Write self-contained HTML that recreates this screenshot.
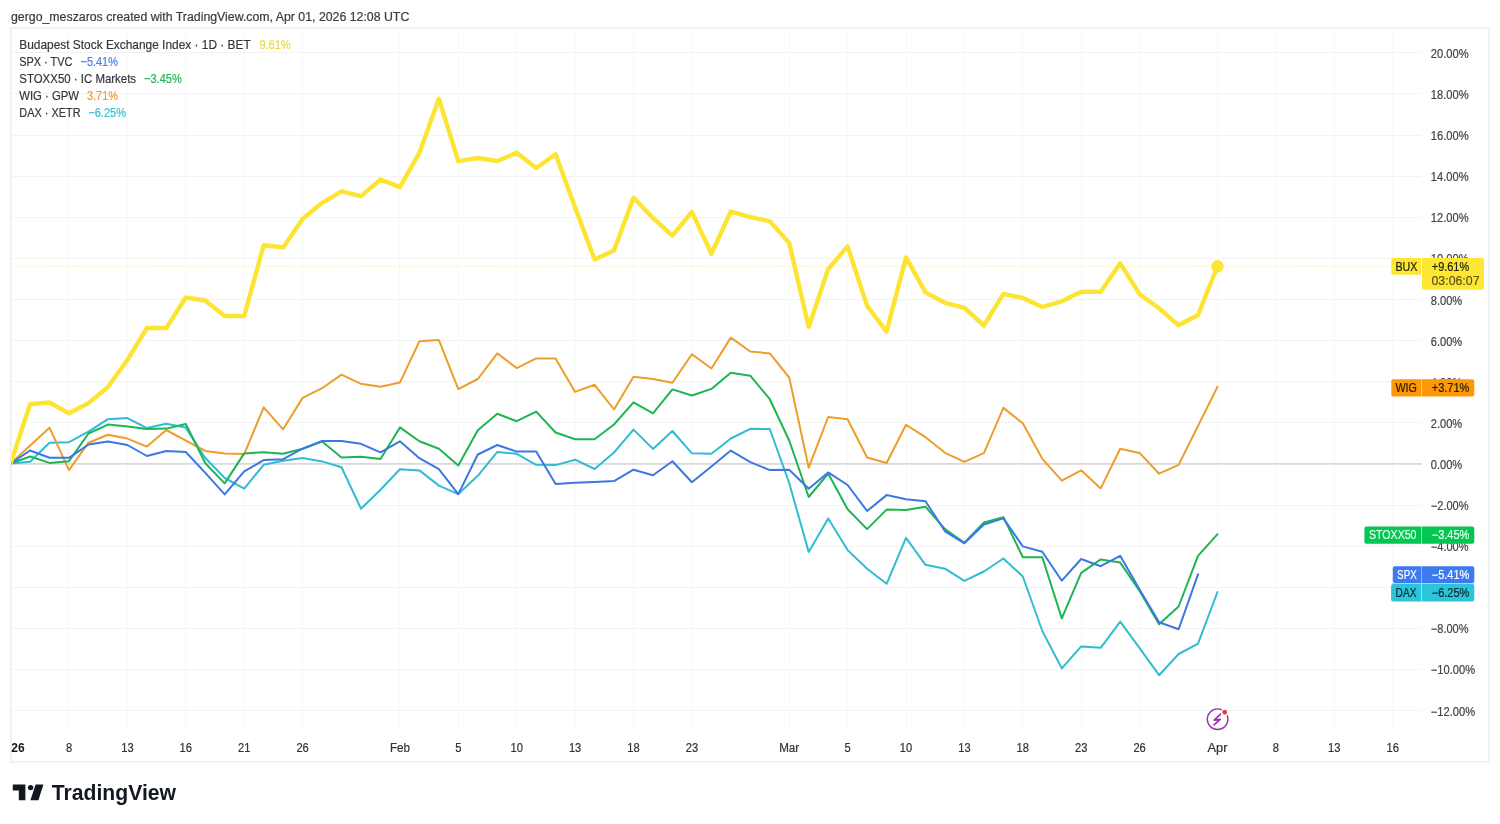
<!DOCTYPE html>
<html><head><meta charset="utf-8"><title>TradingView chart</title>
<style>
html,body{margin:0;padding:0;background:#fff;}
body{width:1500px;height:824px;overflow:hidden;}
svg{display:block;will-change:transform;}
text{font-family:"Liberation Sans", Arial, sans-serif;}
text.s{stroke:currentColor;stroke-width:0.22px;}
</style></head><body>
<svg width="1500" height="824" viewBox="0 0 1500 824">
<rect x="0" y="0" width="1500" height="824" fill="#ffffff"/>

<text class="s" x="11" y="20.6" font-size="12.3" fill="#3a3d45" color="#3a3d45" textLength="398.3" lengthAdjust="spacingAndGlyphs">gergo_meszaros created with TradingView.com, Apr 01, 2026 12:08 UTC</text>
<rect x="10.85" y="27.8" width="1478.3" height="734.1" fill="#fff" stroke="#efefef" stroke-width="1.6"/>
<line x1="11.5" y1="52.5" x2="1421" y2="52.5" stroke="#f3f3f3" stroke-width="1"/>
<line x1="11.5" y1="93.5" x2="1421" y2="93.5" stroke="#f3f3f3" stroke-width="1"/>
<line x1="11.5" y1="135.5" x2="1421" y2="135.5" stroke="#f3f3f3" stroke-width="1"/>
<line x1="11.5" y1="176.5" x2="1421" y2="176.5" stroke="#f3f3f3" stroke-width="1"/>
<line x1="11.5" y1="217.5" x2="1421" y2="217.5" stroke="#f3f3f3" stroke-width="1"/>
<line x1="11.5" y1="258.5" x2="1421" y2="258.5" stroke="#f3f3f3" stroke-width="1"/>
<line x1="11.5" y1="299.5" x2="1421" y2="299.5" stroke="#f3f3f3" stroke-width="1"/>
<line x1="11.5" y1="340.5" x2="1421" y2="340.5" stroke="#f3f3f3" stroke-width="1"/>
<line x1="11.5" y1="381.5" x2="1421" y2="381.5" stroke="#f3f3f3" stroke-width="1"/>
<line x1="11.5" y1="422.5" x2="1421" y2="422.5" stroke="#f3f3f3" stroke-width="1"/>
<line x1="11.5" y1="505.5" x2="1421" y2="505.5" stroke="#f3f3f3" stroke-width="1"/>
<line x1="11.5" y1="546.5" x2="1421" y2="546.5" stroke="#f3f3f3" stroke-width="1"/>
<line x1="11.5" y1="587.5" x2="1421" y2="587.5" stroke="#f3f3f3" stroke-width="1"/>
<line x1="11.5" y1="628.5" x2="1421" y2="628.5" stroke="#f3f3f3" stroke-width="1"/>
<line x1="11.5" y1="669.5" x2="1421" y2="669.5" stroke="#f3f3f3" stroke-width="1"/>
<line x1="11.5" y1="710.5" x2="1421" y2="710.5" stroke="#f3f3f3" stroke-width="1"/>
<line x1="68.5" y1="28.5" x2="68.5" y2="731" stroke="#f8f8f8" stroke-width="1"/>
<line x1="127.5" y1="28.5" x2="127.5" y2="731" stroke="#f8f8f8" stroke-width="1"/>
<line x1="185.5" y1="28.5" x2="185.5" y2="731" stroke="#f8f8f8" stroke-width="1"/>
<line x1="244.5" y1="28.5" x2="244.5" y2="731" stroke="#f8f8f8" stroke-width="1"/>
<line x1="302.5" y1="28.5" x2="302.5" y2="731" stroke="#f8f8f8" stroke-width="1"/>
<line x1="399.5" y1="28.5" x2="399.5" y2="731" stroke="#f8f8f8" stroke-width="1"/>
<line x1="458.5" y1="28.5" x2="458.5" y2="731" stroke="#f8f8f8" stroke-width="1"/>
<line x1="516.5" y1="28.5" x2="516.5" y2="731" stroke="#f8f8f8" stroke-width="1"/>
<line x1="575.5" y1="28.5" x2="575.5" y2="731" stroke="#f8f8f8" stroke-width="1"/>
<line x1="633.5" y1="28.5" x2="633.5" y2="731" stroke="#f8f8f8" stroke-width="1"/>
<line x1="691.5" y1="28.5" x2="691.5" y2="731" stroke="#f8f8f8" stroke-width="1"/>
<line x1="789.5" y1="28.5" x2="789.5" y2="731" stroke="#f8f8f8" stroke-width="1"/>
<line x1="847.5" y1="28.5" x2="847.5" y2="731" stroke="#f8f8f8" stroke-width="1"/>
<line x1="906.5" y1="28.5" x2="906.5" y2="731" stroke="#f8f8f8" stroke-width="1"/>
<line x1="964.5" y1="28.5" x2="964.5" y2="731" stroke="#f8f8f8" stroke-width="1"/>
<line x1="1022.5" y1="28.5" x2="1022.5" y2="731" stroke="#f8f8f8" stroke-width="1"/>
<line x1="1081.5" y1="28.5" x2="1081.5" y2="731" stroke="#f8f8f8" stroke-width="1"/>
<line x1="1139.5" y1="28.5" x2="1139.5" y2="731" stroke="#f8f8f8" stroke-width="1"/>
<line x1="1217.5" y1="28.5" x2="1217.5" y2="731" stroke="#f8f8f8" stroke-width="1"/>
<line x1="1275.5" y1="28.5" x2="1275.5" y2="731" stroke="#f8f8f8" stroke-width="1"/>
<line x1="1334.5" y1="28.5" x2="1334.5" y2="731" stroke="#f8f8f8" stroke-width="1"/>
<line x1="1392.5" y1="28.5" x2="1392.5" y2="731" stroke="#f8f8f8" stroke-width="1"/>
<line x1="11.5" y1="463.9" x2="1422" y2="463.9" stroke="#d9d9d9" stroke-width="1.8"/>
<line x1="11.5" y1="266.3" x2="1391" y2="266.3" stroke="#f8e68a" stroke-width="1" stroke-dasharray="1 1.6" opacity="0.8"/>
<g clip-path="url(#pane)">
<polyline points="10.6,463.5 30.1,461.7 49.5,442.7 69.0,442.2 88.5,431.6 107.9,419.2 127.4,418.1 146.9,428.1 166.3,423.8 185.8,427.6 205.3,458.0 224.7,478.0 244.2,488.6 263.7,464.8 283.1,460.8 302.6,457.9 322.1,461.4 341.5,467.3 361.0,508.8 380.5,489.7 399.9,469.2 419.4,470.4 438.9,485.6 458.3,494.1 477.8,475.8 497.3,451.9 516.7,453.8 536.2,464.8 555.6,465.1 575.1,459.7 594.6,469.0 614.0,452.5 633.5,429.6 653.0,448.9 672.4,431.0 691.9,453.3 711.4,453.7 730.8,438.5 750.3,428.8 769.8,429.0 789.2,483.0 808.7,551.9 828.2,518.4 847.6,550.1 867.1,568.7 886.6,583.8 906.0,537.9 925.5,564.8 945.0,568.7 964.4,580.8 983.9,571.5 1003.4,558.5 1022.8,576.5 1042.3,631.0 1061.8,668.4 1081.2,646.4 1100.7,647.8 1120.2,621.6 1139.6,648.2 1159.1,675.2 1178.6,654.0 1198.0,643.7 1217.5,592.0" fill="none" stroke="#30BCD3" stroke-width="2" stroke-linejoin="round" stroke-linecap="round"/>
<polyline points="10.6,463.5 49.5,427.7 69.0,470.1 88.5,442.7 107.9,434.8 127.4,438.6 146.9,446.6 166.3,430.0 185.8,440.6 205.3,450.9 224.7,453.4 244.2,454.1 263.7,407.3 283.1,429.3 302.6,397.9 322.1,388.2 341.5,374.6 361.0,383.8 380.5,386.7 399.9,382.6 419.4,341.3 438.9,340.1 458.3,389.2 477.8,379.0 497.3,353.4 516.7,368.1 536.2,358.4 555.6,358.4 575.1,391.9 594.6,384.8 614.0,409.5 633.5,376.8 653.0,379.1 672.4,382.8 691.9,354.2 711.4,368.5 730.8,337.6 750.3,351.5 769.8,353.4 789.2,377.5 808.7,467.7 828.2,417.0 847.6,419.3 867.1,457.5 886.6,463.0 906.0,424.8 925.5,437.2 945.0,452.8 964.4,461.9 983.9,453.1 1003.4,407.9 1022.8,423.3 1042.3,458.8 1061.8,480.7 1081.2,470.3 1100.7,488.4 1120.2,448.7 1139.6,452.9 1159.1,473.7 1178.6,464.9 1217.5,386.8" fill="none" stroke="#EF9D2A" stroke-width="2" stroke-linejoin="round" stroke-linecap="round"/>
<polyline points="10.6,463.5 30.1,456.5 49.5,462.9 69.0,461.2 88.5,433.5 107.9,424.6 127.4,426.4 146.9,429.0 166.3,428.6 185.8,424.0 205.3,463.3 224.7,483.4 244.2,453.4 263.7,452.3 283.1,453.8 302.6,448.7 322.1,441.6 341.5,457.5 361.0,456.7 380.5,458.9 399.9,427.4 419.4,441.3 438.9,448.7 458.3,465.5 477.8,430.3 497.3,413.8 516.7,421.2 536.2,411.6 555.6,432.5 575.1,439.3 594.6,439.3 614.0,424.5 633.5,402.4 653.0,413.4 672.4,389.4 691.9,395.5 711.4,388.9 730.8,372.8 750.3,375.7 769.8,399.2 789.2,440.5 808.7,497.0 828.2,473.6 847.6,509.3 867.1,529.1 886.6,509.6 906.0,510.1 925.5,506.7 945.0,529.1 964.4,542.7 983.9,522.5 1003.4,517.1 1022.8,557.2 1042.3,557.2 1061.8,618.4 1081.2,572.9 1100.7,559.4 1120.2,562.6 1139.6,590.9 1159.1,624.3 1178.6,606.5 1198.0,555.8 1217.5,534.2" fill="none" stroke="#1DB552" stroke-width="2" stroke-linejoin="round" stroke-linecap="round"/>
<polyline points="10.6,463.5 30.1,450.5 49.5,457.8 69.0,457.8 88.5,444.5 107.9,441.4 127.4,445.0 146.9,456.0 166.3,451.0 185.8,452.0 205.3,472.9 224.7,494.4 244.2,471.4 263.7,460.1 283.1,459.2 302.6,448.7 322.1,441.0 341.5,441.0 361.0,443.8 380.5,452.3 399.9,441.3 419.4,458.2 438.9,469.2 458.3,494.1 477.8,454.5 497.3,445.0 516.7,451.6 536.2,451.6 555.6,483.9 575.1,482.7 594.6,482.0 614.0,481.1 633.5,469.7 653.0,475.3 672.4,461.3 691.9,482.3 711.4,466.5 730.8,450.6 750.3,462.1 769.8,470.1 789.2,469.8 808.7,488.7 828.2,472.4 847.6,485.0 867.1,511.0 886.6,495.1 906.0,499.2 925.5,501.2 945.0,531.3 964.4,543.3 983.9,524.5 1003.4,518.4 1022.8,546.4 1042.3,551.8 1061.8,580.7 1081.2,559.0 1100.7,566.2 1120.2,555.8 1139.6,589.6 1159.1,622.3 1178.6,629.3 1198.0,574.3" fill="none" stroke="#3B78E4" stroke-width="2" stroke-linejoin="round" stroke-linecap="round"/>
<polyline points="10.6,463.5 30.1,404.3 49.5,402.5 69.0,413.3 88.5,403.1 107.9,387.0 127.4,360.0 146.9,328.0 166.3,328.0 185.8,297.5 205.3,300.5 224.7,316.0 244.2,316.0 263.7,245.3 283.1,247.4 302.6,218.9 322.1,202.8 341.5,191.3 361.0,196.2 380.5,179.5 399.9,187.1 419.4,152.8 438.9,98.8 458.3,161.2 477.8,158.0 497.3,161.0 516.7,152.8 536.2,168.0 555.6,154.3 575.1,207.4 594.6,259.6 614.0,250.5 633.5,197.7 653.0,218.0 672.4,235.6 691.9,211.9 711.4,253.8 730.8,211.5 750.3,217.1 769.8,221.3 789.2,242.9 808.7,326.9 828.2,269.1 847.6,246.4 867.1,305.9 886.6,331.6 906.0,257.4 925.5,292.4 945.0,302.8 964.4,307.9 983.9,325.5 1003.4,293.9 1022.8,298.0 1042.3,307.0 1061.8,301.3 1081.2,291.7 1100.7,291.7 1120.2,263.3 1139.6,294.2 1159.1,308.3 1178.6,325.3 1198.0,315.0 1217.5,266.3" fill="none" stroke="#FDE432" stroke-width="4.4" stroke-linejoin="round" stroke-linecap="round"/>
<circle cx="1217.5" cy="266.3" r="6.2" fill="#FDE432"/>
</g>
<defs><clipPath id="pane"><rect x="11.5" y="28.5" width="1477" height="703"/></clipPath></defs>
<text x="19.3" y="48.9" font-size="12.6" fill="#34373e" stroke="#34373e" stroke-width="0.2" textLength="231.4" lengthAdjust="spacingAndGlyphs">Budapest Stock Exchange Index · 1D · BET</text>
<text x="259.4" y="48.9" font-size="12.6" fill="#f2d93a" stroke="#f2d93a" stroke-width="0.2" textLength="31.3" lengthAdjust="spacingAndGlyphs">9.61%</text>
<text x="19.3" y="66.0" font-size="12.6" fill="#34373e" stroke="#34373e" stroke-width="0.2" textLength="53.0" lengthAdjust="spacingAndGlyphs">SPX · TVC</text>
<text x="80.6" y="66.0" font-size="12.6" fill="#4a80e3" stroke="#4a80e3" stroke-width="0.2" textLength="37.3" lengthAdjust="spacingAndGlyphs">−5.41%</text>
<text x="19.3" y="83.1" font-size="12.6" fill="#34373e" stroke="#34373e" stroke-width="0.2" textLength="116.8" lengthAdjust="spacingAndGlyphs">STOXX50 · IC Markets</text>
<text x="144.0" y="83.1" font-size="12.6" fill="#20b657" stroke="#20b657" stroke-width="0.2" textLength="37.7" lengthAdjust="spacingAndGlyphs">−3.45%</text>
<text x="19.3" y="100.2" font-size="12.6" fill="#34373e" stroke="#34373e" stroke-width="0.2" textLength="59.7" lengthAdjust="spacingAndGlyphs">WIG · GPW</text>
<text x="87.0" y="100.2" font-size="12.6" fill="#f19a2c" stroke="#f19a2c" stroke-width="0.2" textLength="30.9" lengthAdjust="spacingAndGlyphs">3.71%</text>
<text x="19.3" y="117.4" font-size="12.6" fill="#34373e" stroke="#34373e" stroke-width="0.2" textLength="61.3" lengthAdjust="spacingAndGlyphs">DAX · XETR</text>
<text x="88.3" y="117.4" font-size="12.6" fill="#37c0d6" stroke="#37c0d6" stroke-width="0.2" textLength="37.7" lengthAdjust="spacingAndGlyphs">−6.25%</text>
<text x="1430.8" y="57.9" font-size="12" fill="#40434b" stroke="#40434b" stroke-width="0.2" textLength="37.9" lengthAdjust="spacingAndGlyphs">20.00%</text>
<text x="1430.8" y="99.0" font-size="12" fill="#40434b" stroke="#40434b" stroke-width="0.2" textLength="37.9" lengthAdjust="spacingAndGlyphs">18.00%</text>
<text x="1430.8" y="140.1" font-size="12" fill="#40434b" stroke="#40434b" stroke-width="0.2" textLength="37.9" lengthAdjust="spacingAndGlyphs">16.00%</text>
<text x="1430.8" y="181.2" font-size="12" fill="#40434b" stroke="#40434b" stroke-width="0.2" textLength="37.9" lengthAdjust="spacingAndGlyphs">14.00%</text>
<text x="1430.8" y="222.3" font-size="12" fill="#40434b" stroke="#40434b" stroke-width="0.2" textLength="37.9" lengthAdjust="spacingAndGlyphs">12.00%</text>
<text x="1430.8" y="263.4" font-size="12" fill="#40434b" stroke="#40434b" stroke-width="0.2" textLength="37.9" lengthAdjust="spacingAndGlyphs">10.00%</text>
<text x="1430.8" y="304.5" font-size="12" fill="#40434b" stroke="#40434b" stroke-width="0.2" textLength="31.4" lengthAdjust="spacingAndGlyphs">8.00%</text>
<text x="1430.8" y="345.6" font-size="12" fill="#40434b" stroke="#40434b" stroke-width="0.2" textLength="31.4" lengthAdjust="spacingAndGlyphs">6.00%</text>
<text x="1430.8" y="386.7" font-size="12" fill="#40434b" stroke="#40434b" stroke-width="0.2" textLength="31.4" lengthAdjust="spacingAndGlyphs">4.00%</text>
<text x="1430.8" y="427.8" font-size="12" fill="#40434b" stroke="#40434b" stroke-width="0.2" textLength="31.4" lengthAdjust="spacingAndGlyphs">2.00%</text>
<text x="1430.8" y="468.9" font-size="12" fill="#40434b" stroke="#40434b" stroke-width="0.2" textLength="31.4" lengthAdjust="spacingAndGlyphs">0.00%</text>
<text x="1430.8" y="510.0" font-size="12" fill="#40434b" stroke="#40434b" stroke-width="0.2" textLength="37.8" lengthAdjust="spacingAndGlyphs">−2.00%</text>
<text x="1430.8" y="551.1" font-size="12" fill="#40434b" stroke="#40434b" stroke-width="0.2" textLength="37.8" lengthAdjust="spacingAndGlyphs">−4.00%</text>
<text x="1430.8" y="633.3" font-size="12" fill="#40434b" stroke="#40434b" stroke-width="0.2" textLength="37.8" lengthAdjust="spacingAndGlyphs">−8.00%</text>
<text x="1430.8" y="674.4" font-size="12" fill="#40434b" stroke="#40434b" stroke-width="0.2" textLength="44.3" lengthAdjust="spacingAndGlyphs">−10.00%</text>
<text x="1430.8" y="715.5" font-size="12" fill="#40434b" stroke="#40434b" stroke-width="0.2" textLength="44.3" lengthAdjust="spacingAndGlyphs">−12.00%</text>
<text x="65.9" y="751.8" font-size="12" fill="#2f323b" stroke="#2f323b" stroke-width="0.2" textLength="6.2" lengthAdjust="spacingAndGlyphs">8</text>
<text x="121.2" y="751.8" font-size="12" fill="#2f323b" stroke="#2f323b" stroke-width="0.2" textLength="12.4" lengthAdjust="spacingAndGlyphs">13</text>
<text x="179.6" y="751.8" font-size="12" fill="#2f323b" stroke="#2f323b" stroke-width="0.2" textLength="12.4" lengthAdjust="spacingAndGlyphs">16</text>
<text x="238.0" y="751.8" font-size="12" fill="#2f323b" stroke="#2f323b" stroke-width="0.2" textLength="12.4" lengthAdjust="spacingAndGlyphs">21</text>
<text x="296.4" y="751.8" font-size="12" fill="#2f323b" stroke="#2f323b" stroke-width="0.2" textLength="12.4" lengthAdjust="spacingAndGlyphs">26</text>
<text x="389.9" y="751.8" font-size="12" fill="#2f323b" stroke="#2f323b" stroke-width="0.2" textLength="20.0" lengthAdjust="spacingAndGlyphs">Feb</text>
<text x="455.2" y="751.8" font-size="12" fill="#2f323b" stroke="#2f323b" stroke-width="0.2" textLength="6.2" lengthAdjust="spacingAndGlyphs">5</text>
<text x="510.5" y="751.8" font-size="12" fill="#2f323b" stroke="#2f323b" stroke-width="0.2" textLength="12.4" lengthAdjust="spacingAndGlyphs">10</text>
<text x="568.9" y="751.8" font-size="12" fill="#2f323b" stroke="#2f323b" stroke-width="0.2" textLength="12.4" lengthAdjust="spacingAndGlyphs">13</text>
<text x="627.3" y="751.8" font-size="12" fill="#2f323b" stroke="#2f323b" stroke-width="0.2" textLength="12.4" lengthAdjust="spacingAndGlyphs">18</text>
<text x="685.7" y="751.8" font-size="12" fill="#2f323b" stroke="#2f323b" stroke-width="0.2" textLength="12.4" lengthAdjust="spacingAndGlyphs">23</text>
<text x="779.2" y="751.8" font-size="12" fill="#2f323b" stroke="#2f323b" stroke-width="0.2" textLength="20.0" lengthAdjust="spacingAndGlyphs">Mar</text>
<text x="844.5" y="751.8" font-size="12" fill="#2f323b" stroke="#2f323b" stroke-width="0.2" textLength="6.2" lengthAdjust="spacingAndGlyphs">5</text>
<text x="899.8" y="751.8" font-size="12" fill="#2f323b" stroke="#2f323b" stroke-width="0.2" textLength="12.4" lengthAdjust="spacingAndGlyphs">10</text>
<text x="958.2" y="751.8" font-size="12" fill="#2f323b" stroke="#2f323b" stroke-width="0.2" textLength="12.4" lengthAdjust="spacingAndGlyphs">13</text>
<text x="1016.6" y="751.8" font-size="12" fill="#2f323b" stroke="#2f323b" stroke-width="0.2" textLength="12.4" lengthAdjust="spacingAndGlyphs">18</text>
<text x="1075.0" y="751.8" font-size="12" fill="#2f323b" stroke="#2f323b" stroke-width="0.2" textLength="12.4" lengthAdjust="spacingAndGlyphs">23</text>
<text x="1133.4" y="751.8" font-size="12" fill="#2f323b" stroke="#2f323b" stroke-width="0.2" textLength="12.4" lengthAdjust="spacingAndGlyphs">26</text>
<text x="1207.5" y="751.8" font-size="12" fill="#2f323b" stroke="#2f323b" stroke-width="0.2" textLength="20.0" lengthAdjust="spacingAndGlyphs">Apr</text>
<text x="1272.8" y="751.8" font-size="12" fill="#2f323b" stroke="#2f323b" stroke-width="0.2" textLength="6.2" lengthAdjust="spacingAndGlyphs">8</text>
<text x="1328.1" y="751.8" font-size="12" fill="#2f323b" stroke="#2f323b" stroke-width="0.2" textLength="12.4" lengthAdjust="spacingAndGlyphs">13</text>
<text x="1386.5" y="751.8" font-size="12" fill="#2f323b" stroke="#2f323b" stroke-width="0.2" textLength="12.4" lengthAdjust="spacingAndGlyphs">16</text>
<text x="11.3" y="752" font-size="12" font-weight="bold" fill="#131722">26</text>
<path d="M1393.3 258 H1421 V274.7 H1393.3 Q1391.3 274.7 1391.3 272.7 V260 Q1391.3 258 1393.3 258 Z" fill="#fde733"/>
<path d="M1422 258 H1482 Q1484 258 1484 260 V287.7 Q1484 289.7 1482 289.7 H1424 Q1422 289.7 1422 287.7 Z" fill="#fde733"/>
<text x="1395.4" y="270.8" font-size="12" fill="#1e1e10" stroke="#1e1e10" stroke-width="0.2" textLength="22" lengthAdjust="spacingAndGlyphs">BUX</text>
<text x="1431.8" y="270.8" font-size="12" fill="#1e1e10" stroke="#1e1e10" stroke-width="0.2" textLength="37.3" lengthAdjust="spacingAndGlyphs">+9.61%</text>
<text x="1431.5" y="285.3" font-size="12" fill="#5b5423" stroke="#5b5423" stroke-width="0.2" textLength="48" lengthAdjust="spacingAndGlyphs">03:06:07</text>
<rect x="1391.3" y="379.3" width="83.0" height="17.3" rx="2" fill="#fd9906"/>
<rect x="1421" y="379.3" width="1" height="17.3" fill="rgba(255,255,255,0.45)"/>
<text x="1395.4" y="392.2" font-size="12" fill="#2a1a05" stroke="#2a1a05" stroke-width="0.2" textLength="21.5" lengthAdjust="spacingAndGlyphs">WIG</text>
<text x="1431.8" y="392.2" font-size="12" fill="#2a1a05" stroke="#2a1a05" stroke-width="0.2" textLength="37.5" lengthAdjust="spacingAndGlyphs">+3.71%</text>
<rect x="1364.4" y="526.4" width="109.9" height="17.3" rx="2" fill="#05c652"/>
<rect x="1421" y="526.4" width="1" height="17.3" fill="rgba(150,255,190,0.8)"/>
<text x="1369.0" y="539.3" font-size="12" fill="#e6fff0" stroke="#e6fff0" stroke-width="0.2" textLength="47.5" lengthAdjust="spacingAndGlyphs">STOXX50</text>
<text x="1431.8" y="539.3" font-size="12" fill="#e6fff0" stroke="#e6fff0" stroke-width="0.2" textLength="37.5" lengthAdjust="spacingAndGlyphs">−3.45%</text>
<rect x="1392.8" y="566.2" width="81.5" height="16.8" rx="2" fill="#3d7af0"/>
<rect x="1421" y="566.2" width="1" height="16.8" fill="rgba(255,255,255,0.45)"/>
<text x="1397.1" y="579.1" font-size="12" fill="#ffffff" stroke="#ffffff" stroke-width="0.2" textLength="19.6" lengthAdjust="spacingAndGlyphs">SPX</text>
<text x="1431.8" y="579.1" font-size="12" fill="#ffffff" stroke="#ffffff" stroke-width="0.2" textLength="37.5" lengthAdjust="spacingAndGlyphs">−5.41%</text>
<rect x="1391.1" y="584.0" width="83.2" height="17.4" rx="2" fill="#2bc4da"/>
<rect x="1421" y="584.0" width="1" height="17.4" fill="rgba(255,255,255,0.5)"/>
<text x="1395.6" y="596.9" font-size="12" fill="#0b2a30" stroke="#0b2a30" stroke-width="0.2" textLength="20.8" lengthAdjust="spacingAndGlyphs">DAX</text>
<text x="1431.8" y="596.9" font-size="12" fill="#0b2a30" stroke="#0b2a30" stroke-width="0.2" textLength="37.5" lengthAdjust="spacingAndGlyphs">−6.25%</text>
<rect x="1392" y="583" width="82" height="1" fill="#8fe3f0"/>
<g transform="translate(1217.6,719.2)">
<circle cx="0" cy="0" r="12" fill="#ffffff"/>
<circle cx="0" cy="0" r="10.3" fill="none" stroke="#9c2fb3" stroke-width="1.4"/>
<path d="M 3.0 -5.0 L -3.4 1.0 L 2.6 0.2 L -3.6 5.6" fill="none" stroke="#9c2fb3" stroke-width="1.7" stroke-linejoin="round" stroke-linecap="round"/>
<circle cx="7.1" cy="-7" r="3.1" fill="#f23645" stroke="#ffffff" stroke-width="1.3"/>
</g>
<g fill="#131722">
<path d="M12.8 784.6 H25.4 V800.2 H18.8 V790.6 H12.8 Z"/>
<circle cx="30.6" cy="787.6" r="2.7"/>
<path d="M35.6 784.6 H43.4 L38.4 800.2 H30.4 Z"/>
</g>
<text x="51.8" y="800.2" font-size="21.5" font-weight="bold" fill="#131722" textLength="124.2" lengthAdjust="spacingAndGlyphs">TradingView</text>

</svg></body></html>
